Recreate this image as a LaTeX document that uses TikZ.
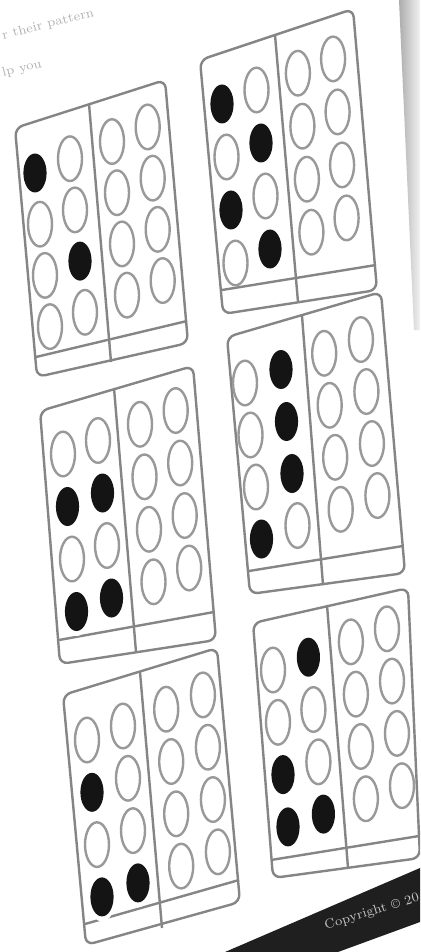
\documentclass[tikz,border=0pt]{standalone}
\usetikzlibrary{calc}
\definecolor{ring}{gray}{0.6}
\definecolor{frame}{gray}{0.52}
\definecolor{dot}{gray}{0.08}
\tikzset{
  ringline/.style={draw=ring, line width=1.2pt},
  dotfill/.style={fill=dot},
  cardline/.style={draw=frame, line width=1.2pt, rounded corners=4pt, line join=round},
  divline/.style={draw=frame, line width=1.2pt},
  faint/.style={text=gray!60, inner sep=0pt},
}
% #1,#2 centre of first circle; #3,#4 column step; #5,#6 row step; #7 list colOffset/row of black dots
\newcommand{\tenframe}[7]{%
  \foreach \cO in {0,1,2.2,3.22}{%
    \foreach \rI in {1,2,3,4}{%
      \pgfmathsetmacro\px{#1+\cO*#3+(\rI-1)*#5}%
      \pgfmathsetmacro\py{#2+\cO*#4+(\rI-1)*#6}%
      \draw[ringline] (\px,\py) ellipse [x radius=12, y radius=22.3];
    }}%
  \foreach \cO/\rI in {#7}{%
    \pgfmathsetmacro\px{#1+\cO*#3+(\rI-1)*#5}%
    \pgfmathsetmacro\py{#2+\cO*#4+(\rI-1)*#6}%
    \fill[white] (\px,\py) ellipse [x radius=14, y radius=24.5];
    \fill[dotfill] (\px,\py) ellipse [x radius=11.6, y radius=19.5];
  }}
% outline: TL, TR, BR, BL, divider top, divider bottom, strip left, strip right
\newcommand{\cardframe}[9]{%
  \draw[cardline] #1 -- #2 -- #3 -- #4 -- cycle;
  \draw[divline] #5 -- #6;
  \draw[divline] #7 -- #8;
}
\begin{document}
\begin{tikzpicture}[x=0.5pt, y=-0.5pt]
\useasboundingbox (0,0) rectangle (420,952);
\fill[white] (0,0) rectangle (420,952);
\clip (0,0) rectangle (420,952);

% page edge shadow
\shade[left color=gray!65, right color=gray!10] (399,0) -- (420,0) -- (420,330) -- (414,330) -- cycle;

% header text fragments
\node[faint, anchor=west, rotate=14, font=\fontsize{6.5}{8}\selectfont] (t1) at (2,36) {r their pattern};
\node[faint, anchor=west, rotate=14, font=\fontsize{6.5}{8}\selectfont] (t2) at (2,74) {lp you};

% card A (top left)
\cardframe{(15,128)}{(165,80)}{(188,343)}{(37,377)}{(89,104)}{(111,362)}{(36,357)}{(187,321)}{}
\tenframe{35}{173}{35}{-14.3}{5}{51.2}{0/1,1/3}

% card B (top right)
\cardframe{(200,60)}{(353,9)}{(377,290)}{(223,314)}{(275,35)}{(298,302)}{(222,290)}{(376,265)}{}
\tenframe{222}{104}{34.5}{-14}{4.5}{53}{0/1,1/2,0/3,1/4}

% card C (middle left)
\cardframe{(40,411)}{(193,366)}{(216,640)}{(60,664)}{(114,388)}{(136,652)}{(59,640)}{(214,612)}{}
\tenframe{63}{454}{35}{-13.5}{4.5}{52.5}{0/2,1/2,0/4,1/4}

% card D (middle right)
\cardframe{(227,337)}{(381,292)}{(405,573)}{(250,594)}{(302,316)}{(323,585)}{(249,571)}{(403,546)}{}
\tenframe{245}{383}{36}{-13.5}{5.5}{52}{1/1,1/2,1/3,0/4}

% card E (bottom left)
\cardframe{(63,695)}{(217,648)}{(240,902)}{(86,945)}{(140,672)}{(162,928)}{(85,924)}{(239,880)}{}
\tenframe{87}{740}{36}{-14}{5}{52.3}{0/2,0/4,1/4}

% card F (bottom right)
\cardframe{(253,623)}{(408,588)}{(420,858)}{(273,878)}{(327,605)}{(348,868)}{(271,860)}{(419,836)}{}
\tenframe{273}{670}{35.4}{-12.8}{5}{52.3}{1/1,0/3,0/4,1/4}

% copyright band
\fill[black!88] (225,952) -- (420,868) -- (420,922) -- (338,952) -- cycle;
\node[text=gray!45, inner sep=0pt, rotate=17, font=\fontsize{6.5}{7}\selectfont] (cp) at (372,912) {Copyright \textcopyright\ 20};
\end{tikzpicture}
\end{document}
